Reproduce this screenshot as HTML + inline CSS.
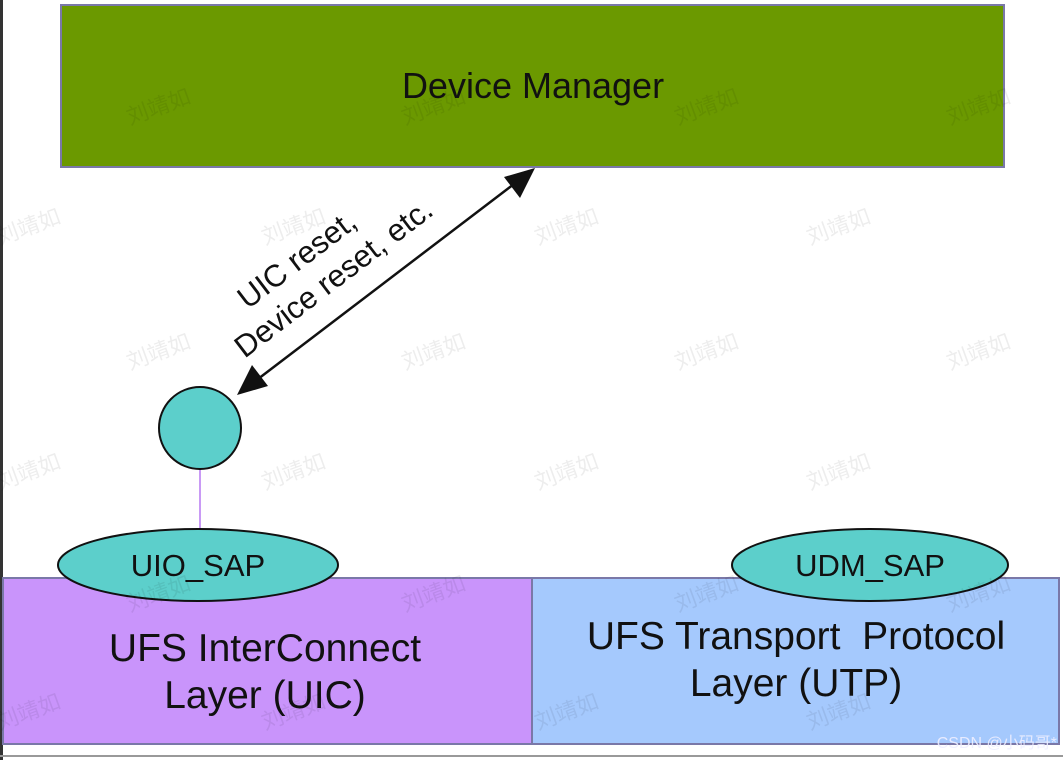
<!DOCTYPE html>
<html><head><meta charset="utf-8"><style>
html,body{margin:0;padding:0;background:#fff;}
svg{display:block;}
</style></head><body>
<svg width="1063" height="760" viewBox="0 0 1063 760" xmlns="http://www.w3.org/2000/svg" font-family="Liberation Sans, sans-serif">
<rect x="0" y="0" width="1063" height="760" fill="#fff"/>
<rect x="0" y="0" width="3" height="760" fill="#333"/>
<rect x="0" y="755" width="1063" height="2" fill="#999"/>
<rect x="61" y="5" width="943" height="162" fill="#6b9900" stroke="#7a78a8" stroke-width="2"/>
<text x="533" y="98" font-size="36" text-anchor="middle" fill="#111">Device Manager</text>
<rect x="3" y="578" width="529" height="166" fill="#c994fb" stroke="#7a78a8" stroke-width="2"/>
<rect x="532" y="578" width="527" height="166" fill="#a5c9fd" stroke="#7a78a8" stroke-width="2"/>
<text x="265" y="661" font-size="39" text-anchor="middle" fill="#111">UFS InterConnect</text>
<text x="265" y="708" font-size="39" text-anchor="middle" fill="#111">Layer (UIC)</text>
<text x="796" y="649" font-size="39" text-anchor="middle" fill="#111">UFS Transport&#160; Protocol</text>
<text x="796" y="696" font-size="39" text-anchor="middle" fill="#111">Layer (UTP)</text>
<line x1="200" y1="470" x2="200" y2="530" stroke="#c99af5" stroke-width="2"/>
<ellipse cx="198" cy="565" rx="140" ry="36" fill="#5ccfcb" stroke="#111" stroke-width="2"/>
<text x="198" y="576" font-size="31" text-anchor="middle" fill="#111">UIO_SAP</text>
<ellipse cx="870" cy="565" rx="138" ry="36" fill="#5ccfcb" stroke="#111" stroke-width="2"/>
<text x="870" y="576" font-size="31" text-anchor="middle" fill="#111">UDM_SAP</text>
<circle cx="200" cy="428" r="41" fill="#5ccfcb" stroke="#111" stroke-width="2"/>
<line x1="258" y1="379" x2="514" y2="184" stroke="#111" stroke-width="2.5"/>
<polygon points="535,168 520,198 504,177" fill="#111"/>
<polygon points="237,395 252,365 268,386" fill="#111"/>
<g transform="rotate(-37.3 320 270)" font-size="31" fill="#111" text-anchor="middle">
<text x="308" y="258">UIC reset,</text>
<text x="326" y="295">Device reset, etc.</text>
</g>
<g font-family="Noto Sans CJK SC, sans-serif" font-size="22" fill="#000" fill-opacity="0.07">
<text transform="translate(130,125) rotate(-20)">刘靖如</text>
<text transform="translate(405,125) rotate(-20)">刘靖如</text>
<text transform="translate(678,125) rotate(-20)">刘靖如</text>
<text transform="translate(950,125) rotate(-20)">刘靖如</text>
<text transform="translate(0,245) rotate(-20)">刘靖如</text>
<text transform="translate(265,245) rotate(-20)">刘靖如</text>
<text transform="translate(538,245) rotate(-20)">刘靖如</text>
<text transform="translate(810,245) rotate(-20)">刘靖如</text>
<text transform="translate(130,370) rotate(-20)">刘靖如</text>
<text transform="translate(405,370) rotate(-20)">刘靖如</text>
<text transform="translate(678,370) rotate(-20)">刘靖如</text>
<text transform="translate(950,370) rotate(-20)">刘靖如</text>
<text transform="translate(0,490) rotate(-20)">刘靖如</text>
<text transform="translate(265,490) rotate(-20)">刘靖如</text>
<text transform="translate(538,490) rotate(-20)">刘靖如</text>
<text transform="translate(810,490) rotate(-20)">刘靖如</text>
<text transform="translate(130,612) rotate(-20)">刘靖如</text>
<text transform="translate(405,612) rotate(-20)">刘靖如</text>
<text transform="translate(678,612) rotate(-20)">刘靖如</text>
<text transform="translate(950,612) rotate(-20)">刘靖如</text>
<text transform="translate(0,730) rotate(-20)">刘靖如</text>
<text transform="translate(265,730) rotate(-20)">刘靖如</text>
<text transform="translate(538,730) rotate(-20)">刘靖如</text>
<text transform="translate(810,730) rotate(-20)">刘靖如</text>
</g>
<text x="1057" y="748" font-family="Liberation Sans, Noto Sans CJK SC, sans-serif" font-size="16" text-anchor="end" fill="#eef" fill-opacity="0.9">CSDN @小码哥*</text>
</svg>
</body></html>
